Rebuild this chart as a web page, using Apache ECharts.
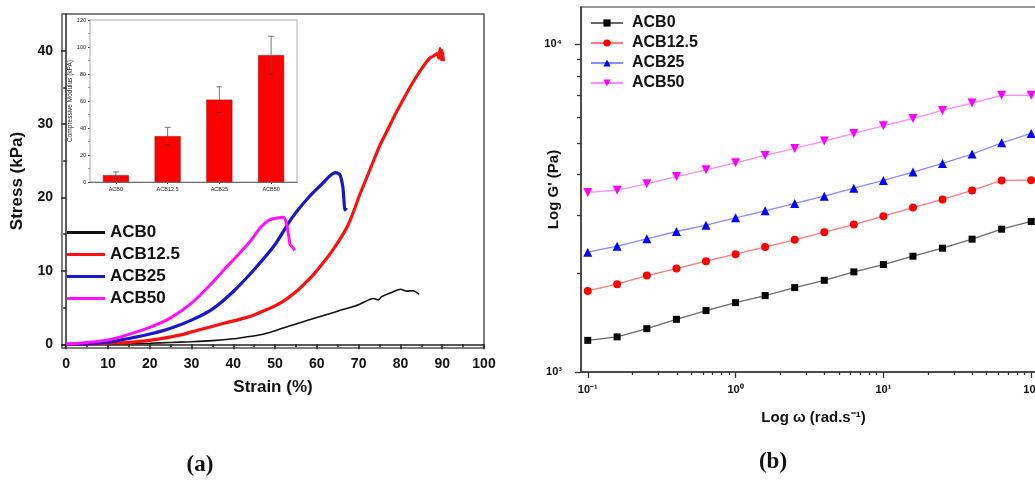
<!DOCTYPE html>
<html><head><meta charset="utf-8">
<script src="https://cdn.jsdelivr.net/npm/echarts@6/dist/echarts.min.js"></script>
<style>html,body{margin:0;padding:0;background:#fff}#c{width:1035px;height:481px}</style>
</head><body><div id="c"></div>
<script>
// ---------- Panel (a): stress-strain ----------
const seriesNames = ['ACB0', 'ACB12.5', 'ACB25', 'ACB50'];
const strainACB0 = [0, 10, 20, 25, 30, 35, 40, 43, 46.5, 50, 54, 58, 62, 66, 70, 73.5, 74.7, 75.5, 78, 80, 81.5, 83, 84.5];
const stressACB0 = [0, 0.05, 0.15, 0.25, 0.35, 0.5, 0.75, 1.0, 1.3, 1.85, 2.6, 3.3, 4.0, 4.7, 5.4, 6.25, 6.05, 6.5, 7.1, 7.5, 7.25, 7.3, 6.8];
const strainACB125 = [0, 5, 10, 16, 22, 28, 30, 34, 38, 41.5, 45, 47, 49.5, 51.5, 53.5, 55.5, 57.5, 59.5, 61.5, 63.5, 65.5, 67.5, 69, 70, 72, 75, 77, 79, 81, 83, 85, 87, 88, 88.7, 89.2, 89.5, 89.8, 90, 90.3];
const stressACB125 = [0, 0.05, 0.15, 0.3, 0.7, 1.35, 1.7, 2.3, 2.9, 3.4, 4.0, 4.5, 5.1, 5.7, 6.5, 7.4, 8.5, 9.7, 11.1, 12.6, 14.3, 16.3, 18.4, 20.0, 22.8, 27.0, 29.3, 31.6, 33.7, 35.7, 37.5, 39.0, 39.3, 39.6, 39.0, 40.3, 38.8, 40.0, 38.6];
const strainACB25 = [0, 5, 10, 15, 20, 25, 30, 35, 40, 45, 50, 54, 58, 61.5, 63, 64.5, 65.5, 66.2, 66.5, 66.7, 67.1];
const stressACB25 = [0, 0.1, 0.3, 0.8, 1.4, 2.2, 3.3, 4.8, 7.2, 10.2, 13.6, 17.2, 20.0, 22.0, 22.9, 23.4, 23.1, 21.5, 19.5, 18.3, 18.6];
const strainACB50 = [0, 5, 10, 15, 20, 25, 30, 35, 38, 41, 44, 46.5, 48.5, 50.5, 52, 52.7, 53.2, 53.6, 54.2, 54.7];
const stressACB50 = [0, 0.25, 0.6, 1.35, 2.3, 3.6, 5.6, 8.4, 10.3, 12.1, 14.0, 15.9, 16.9, 17.2, 17.3, 16.5, 15.0, 13.6, 13.2, 12.8];
const strainTicks = [0, 10, 20, 30, 40, 50, 60, 70, 80, 90, 100];
const strainMinorTicks = [5, 15, 25, 35, 45, 55, 65, 75, 85, 95];
const stressTicks = [0, 10, 20, 30, 40];
const stressMinorTicks = [5, 15, 25, 35];

// ---------- Inset: compressive modulus ----------
const insetCategories = ['ACB0', 'ACB12.5', 'ACB25', 'ACB50'];
const modulus = [5, 34, 61, 94];
const modulusErr = [2.5, 6.5, 9.5, 14];

// ---------- Panel (b): G' vs omega ----------
const omega = [0.1, 0.158, 0.251, 0.398, 0.631, 1, 1.585, 2.512, 3.981, 6.31, 10, 15.85, 25.12, 39.81, 63.1, 100];
const gACB0 = [1249, 1280, 1356, 1448, 1540, 1628, 1711, 1810, 1905, 2021, 2128, 2256, 2387, 2543, 2728, 2880];
const gACB125 = [1768, 1853, 1970, 2069, 2178, 2288, 2409, 2531, 2671, 2819, 2989, 3177, 3361, 3581, 3842, 3851];
const gACB25 = [2321, 2420, 2549, 2684, 2806, 2954, 3103, 3268, 3441, 3640, 3842, 4074, 4330, 4624, 5007, 5348];
const gACB50 = [3531, 3589, 3752, 3950, 4141, 4350, 4580, 4812, 5067, 5348, 5643, 5941, 6285, 6619, 6988, 6988];
const omegaTicks = [0.1, 1, 10, 100];
const omegaMinorTicks = [0.2,0.3,0.4,0.5,0.6,0.7,0.8,0.9,2,3,4,5,6,7,8,9,20,30,40,50,60,70,80,90];
const gTicks = [1000, 10000];
const gMinorTicks = [2000,3000,4000,5000,6000,7000,8000,9000];

const pairs = (xs, ys) => xs.map((x, i) => [x, ys[i]]);
const SANS = "'Liberation Sans', Arial, sans-serif";
const supMap = {'-':'\u207B','0':'\u2070','1':'\u00B9','2':'\u00B2','3':'\u00B3','4':'\u2074','5':'\u2075','6':'\u2076','7':'\u2077','8':'\u2078','9':'\u2079'};
const powLabel = v => '10' + String(Math.round(Math.log10(v))).split('').map(c => supMap[c]).join('');

const aColors = ['#111111', '#ff1010', '#1818c8', '#ff10ff'];
const aWidths = [1.6, 3.2, 3.2, 3];
const aData = [pairs(strainACB0, stressACB0), pairs(strainACB125, stressACB125), pairs(strainACB25, stressACB25), pairs(strainACB50, stressACB50)];

const bData = [gACB0, gACB125, gACB25, gACB50].map(g => pairs(omega, g));
const bMarkColors = ['#000000', '#ff0000', '#0000ff', '#ff00ff'];
const bLineColors = ['#6a6a6a', '#ff7a7a', '#8a8aff', '#ff8aff'];
const bSymbols = ['rect', 'circle', 'triangle', 'triangle'];
const bRot = [0, 0, 0, 180];
const bSizes = [7, 8, 9, 9];

const series = [];
// panel (b) series first (legend icon representative)
seriesNames.forEach((n, i) => {
  series.push({
    type: 'line', name: n, xAxisIndex: 3, yAxisIndex: 3, data: bData[i],
    symbol: bSymbols[i], symbolRotate: bRot[i], symbolSize: bSizes[i],
    itemStyle: { color: bMarkColors[i] },
    lineStyle: { color: bLineColors[i], width: 1.3 },
    z: 3
  });
});
seriesNames.forEach((n, i) => {
  series.push({
    type: 'line', name: n, xAxisIndex: 0, yAxisIndex: 0, data: aData[i],
    symbol: 'none', smooth: 0.25,
    itemStyle: { color: aColors[i] },
    lineStyle: { color: aColors[i], width: aWidths[i] },
    z: 2 + i * 0.1
  });
});
series.push({
  type: 'bar', xAxisIndex: 2, yAxisIndex: 2, data: modulus, barWidth: 26,
  itemStyle: { color: '#ff0000', borderColor: '#b00000', borderWidth: 0.6 }, z: 4
});
series.push({
  type: 'custom', xAxisIndex: 2, yAxisIndex: 2, z: 5,
  data: modulus.map((v, i) => [i, v, modulusErr[i]]),
  renderItem: (params, api) => {
    const x = api.value(0), v = api.value(1), e = api.value(2);
    const top = api.coord([x, v + e]);
    const bot = api.coord([x, v - e]);
    const st = { stroke: '#555', lineWidth: 0.8 };
    return { type: 'group', children: [
      { type: 'line', shape: { x1: top[0], y1: top[1], x2: bot[0], y2: bot[1] }, style: st },
      { type: 'line', shape: { x1: top[0] - 3, y1: top[1], x2: top[0] + 3, y2: top[1] }, style: st },
      { type: 'line', shape: { x1: bot[0] - 2, y1: bot[1], x2: bot[0] + 2, y2: bot[1] }, style: { stroke: '#333', lineWidth: 0.8 } }
    ]};
  }
});

const axisLineA = { show: true, lineStyle: { color: '#222', width: 1.5 } };
const option = {
  animation: false,
  backgroundColor: '#fff',
  grid: [
    { left: 62, top: 14, width: 422, height: 334, show: true, borderColor: '#555', borderWidth: 1.5, backgroundColor: 'transparent', outerBoundsMode: 'none', containLabel: false },
    { left: 90, top: 20, width: 207, height: 162, show: true, borderColor: '#a8a8a8', borderWidth: 1, backgroundColor: '#fff', z: 1, outerBoundsMode: 'none', containLabel: false },
    { left: 581, top: 7, width: 465, height: 365, show: true, borderColor: '#777', borderWidth: 1.5, backgroundColor: 'transparent', outerBoundsMode: 'none', containLabel: false }
  ],
  xAxis: [
    { gridIndex: 0, type: 'value', min: -1, max: 100, position: 'bottom',
      axisLine: axisLineA,
      axisTick: { show: true, customValues: strainTicks, length: 5, lineStyle: { color: '#222', width: 1.5 } },
      axisLabel: { customValues: strainTicks, color: '#111', fontFamily: SANS, fontWeight: 'bold', fontSize: 14, margin: 9 },
      splitLine: { show: false },
      name: 'Strain (%)', nameLocation: 'middle', nameGap: 31, nameMoveOverlap: false,
      nameTextStyle: { color: '#111', fontFamily: SANS, fontWeight: 'bold', fontSize: 17 } },
    { gridIndex: 0, type: 'value', min: -1, max: 100, position: 'bottom',
      axisLine: { show: false },
      axisTick: { show: true, customValues: strainMinorTicks, length: 3, lineStyle: { color: '#222', width: 1.5 } },
      axisLabel: { show: false }, splitLine: { show: false } },
    { gridIndex: 1, type: 'category', data: insetCategories,
      axisLine: { show: true, lineStyle: { color: '#333', width: 1 } },
      axisTick: { show: true, alignWithLabel: true, length: 2, lineStyle: { color: '#333' } },
      axisLabel: { color: '#222', fontFamily: SANS, fontSize: 5.5, margin: 4 } },
    { gridIndex: 2, type: 'log', logBase: 10, min: 0.09, max: 125.9, position: 'bottom',
      axisLine: { show: true, lineStyle: { color: '#333', width: 1.5 } },
      axisTick: { show: true, customValues: omegaTicks, length: 6, lineStyle: { color: '#333', width: 1.3 } },
      axisLabel: { customValues: omegaTicks, formatter: powLabel, color: '#111', fontFamily: SANS, fontWeight: 'bold', fontSize: 11, margin: 12 },
      splitLine: { show: false }, minorTick: { show: false },
      name: 'Log \u03C9 (rad.s\u207B\u00B9)', nameLocation: 'middle', nameGap: 38, nameMoveOverlap: false,
      nameTextStyle: { color: '#111', fontFamily: SANS, fontWeight: 'bold', fontSize: 15 } },
    { gridIndex: 2, type: 'log', logBase: 10, min: 0.09, max: 125.9, position: 'bottom',
      axisLine: { show: false },
      axisTick: { show: true, customValues: omegaMinorTicks, length: 3, lineStyle: { color: '#333', width: 1.3 } },
      axisLabel: { show: false }, splitLine: { show: false } }
  ],
  yAxis: [
    { gridIndex: 0, type: 'value', min: -0.5, max: 45, position: 'left',
      axisLine: axisLineA,
      axisTick: { show: true, customValues: stressTicks, length: 5, lineStyle: { color: '#222', width: 1.5 } },
      axisLabel: { customValues: stressTicks, color: '#111', fontFamily: SANS, fontWeight: 'bold', fontSize: 14, margin: 9 },
      splitLine: { show: false },
      name: 'Stress (kPa)', nameLocation: 'middle', nameGap: 36, nameMoveOverlap: false,
      nameTextStyle: { color: '#111', fontFamily: SANS, fontWeight: 'bold', fontSize: 17 } },
    { gridIndex: 0, type: 'value', min: -0.5, max: 45, position: 'left',
      axisLine: { show: false },
      axisTick: { show: true, customValues: stressMinorTicks, length: 3, lineStyle: { color: '#222', width: 1.5 } },
      axisLabel: { show: false }, splitLine: { show: false } },
    { gridIndex: 1, type: 'value', min: 0, max: 120, interval: 20,
      axisLine: { show: true, lineStyle: { color: '#333', width: 1 } },
      axisTick: { show: true, length: 2, lineStyle: { color: '#333' } },
      minorTick: { show: true, splitNumber: 2, length: 1.5, lineStyle: { color: '#555' } },
      axisLabel: { color: '#222', fontFamily: SANS, fontSize: 5.5, margin: 4 },
      splitLine: { show: false },
      name: 'Compressive Modulus (kPA)', nameLocation: 'middle', nameGap: 16, nameMoveOverlap: false,
      nameTextStyle: { color: '#222', fontFamily: SANS, fontSize: 6.5 } },
    { gridIndex: 2, type: 'log', logBase: 10, min: 1000, max: 13000, position: 'left',
      axisLine: { show: true, lineStyle: { color: '#333', width: 1.5 } },
      axisTick: { show: true, customValues: gTicks, length: 6, lineStyle: { color: '#333', width: 1.3 } },
      axisLabel: { customValues: gTicks, formatter: powLabel, color: '#111', fontFamily: SANS, fontWeight: 'bold', fontSize: 11, margin: 19 },
      splitLine: { show: false }, minorTick: { show: false },
      name: "Log G' (Pa)", nameLocation: 'middle', nameGap: 20, nameMoveOverlap: false,
      nameTextStyle: { color: '#111', fontFamily: SANS, fontWeight: 'bold', fontSize: 15 } },
    { gridIndex: 2, type: 'log', logBase: 10, min: 1000, max: 13000, position: 'left',
      axisLine: { show: false },
      axisTick: { show: true, customValues: gMinorTicks, length: 4, lineStyle: { color: '#333', width: 1.3 } },
      axisLabel: { show: false }, splitLine: { show: false } }
  ],
  legend: [
    { left: 62, top: 219, orient: 'vertical', icon: 'rect', itemWidth: 38, itemHeight: 3, itemGap: 5,
      data: seriesNames.map((n, i) => ({ name: n, itemStyle: { color: aColors[i] } })),
      textStyle: { color: '#111', fontFamily: SANS, fontWeight: 'bold', fontSize: 17 }, selectedMode: false },
    { left: 585, top: 10, orient: 'vertical', itemWidth: 32, itemHeight: 9, itemGap: 4,
      data: seriesNames,
      textStyle: { color: '#111', fontFamily: SANS, fontWeight: 'bold', fontSize: 16, padding: [0, 0, 0, 4] }, selectedMode: false }
  ],
  graphic: [
    { type: 'text', x: 200, y: 465, style: { text: '(a)', textAlign: 'center', textVerticalAlign: 'middle', font: "bold 23px 'Liberation Serif', serif", fill: '#111' } },
    { type: 'text', x: 773, y: 462, style: { text: '(b)', textAlign: 'center', textVerticalAlign: 'middle', font: "bold 23px 'Liberation Serif', serif", fill: '#111' } }
  ],
  series: series
};
const chart = echarts.init(document.getElementById('c'), null, { renderer: 'canvas' });
chart.setOption(option);
</script></body></html>
